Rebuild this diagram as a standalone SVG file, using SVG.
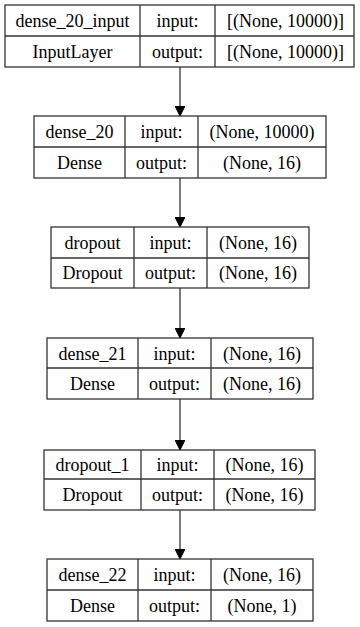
<svg xmlns="http://www.w3.org/2000/svg" width="360" height="627" viewBox="0 0 360 627">
<style>
.n rect, .n line { fill: #fff; stroke: #333; stroke-width: 1.3; }
.n line { fill: none; }
svg g.n text { font-family: 'Liberation Serif', 'Times New Roman', serif !important; font-size: 18px; fill: #000; text-anchor: middle; }
.c line { stroke: #333; stroke-width: 1.3; }
</style>
<defs>
<marker id="ah" markerWidth="10" markerHeight="10" viewBox="0 0 10 10" refX="10" refY="5" orient="auto" markerUnits="userSpaceOnUse">
<path d="M0,0 L10,5 L0,10 z" fill="#000" stroke="#000"/>
</marker>
</defs>
<rect x="0" y="0" width="360" height="627" fill="#ffffff"/>
<g class="c" id="connectors">
<line x1="180" y1="67" x2="180" y2="116" marker-end="url(#ah)"/>
<line x1="180" y1="178" x2="180" y2="227" marker-end="url(#ah)"/>
<line x1="180" y1="288" x2="180" y2="338" marker-end="url(#ah)"/>
<line x1="180" y1="399" x2="180" y2="450" marker-end="url(#ah)"/>
<line x1="180" y1="510" x2="180" y2="559" marker-end="url(#ah)"/>
</g>
<g class="n" id="dense_20_input">
<rect x="5" y="5" width="349" height="62"/>
<line x1="5" y1="36" x2="354" y2="36"/>
<line x1="140" y1="5" x2="140" y2="67"/>
<line x1="215" y1="5" x2="215" y2="67"/>
<text x="72.5" y="27" font-family="'Liberation Serif', serif">dense_20_input</text>
<text x="72.5" y="58" font-family="'Liberation Serif', serif">InputLayer</text>
<text x="177.5" y="27" font-family="'Liberation Serif', serif">input:</text>
<text x="177.5" y="58" font-family="'Liberation Serif', serif">output:</text>
<text x="285.5" y="27" font-family="'Liberation Serif', serif">[(None, 10000)]</text>
<text x="285.5" y="58" font-family="'Liberation Serif', serif">[(None, 10000)]</text>
</g>
<g class="n" id="dense_20">
<rect x="34" y="116" width="292" height="62"/>
<line x1="34" y1="147" x2="326" y2="147"/>
<line x1="125" y1="116" x2="125" y2="178"/>
<line x1="198" y1="116" x2="198" y2="178"/>
<text x="79.5" y="138" font-family="'Liberation Serif', serif">dense_20</text>
<text x="79.5" y="169" font-family="'Liberation Serif', serif">Dense</text>
<text x="161.5" y="138" font-family="'Liberation Serif', serif">input:</text>
<text x="161.5" y="169" font-family="'Liberation Serif', serif">output:</text>
<text x="262" y="138" font-family="'Liberation Serif', serif">(None, 10000)</text>
<text x="262" y="169" font-family="'Liberation Serif', serif">(None, 16)</text>
</g>
<g class="n" id="dropout">
<rect x="51" y="227" width="258" height="61"/>
<line x1="51" y1="258" x2="309" y2="258"/>
<line x1="134" y1="227" x2="134" y2="288"/>
<line x1="207" y1="227" x2="207" y2="288"/>
<text x="92.5" y="249" font-family="'Liberation Serif', serif">dropout</text>
<text x="92.5" y="279" font-family="'Liberation Serif', serif">Dropout</text>
<text x="170.5" y="249" font-family="'Liberation Serif', serif">input:</text>
<text x="170.5" y="279" font-family="'Liberation Serif', serif">output:</text>
<text x="258" y="249" font-family="'Liberation Serif', serif">(None, 16)</text>
<text x="258" y="279" font-family="'Liberation Serif', serif">(None, 16)</text>
</g>
<g class="n" id="dense_21">
<rect x="47" y="338" width="266" height="61"/>
<line x1="47" y1="368" x2="313" y2="368"/>
<line x1="138" y1="338" x2="138" y2="399"/>
<line x1="211" y1="338" x2="211" y2="399"/>
<text x="92.5" y="360" font-family="'Liberation Serif', serif">dense_21</text>
<text x="92.5" y="390" font-family="'Liberation Serif', serif">Dense</text>
<text x="174.5" y="360" font-family="'Liberation Serif', serif">input:</text>
<text x="174.5" y="390" font-family="'Liberation Serif', serif">output:</text>
<text x="262" y="360" font-family="'Liberation Serif', serif">(None, 16)</text>
<text x="262" y="390" font-family="'Liberation Serif', serif">(None, 16)</text>
</g>
<g class="n" id="dropout_1">
<rect x="44" y="450" width="271" height="60"/>
<line x1="44" y1="479" x2="315" y2="479"/>
<line x1="141" y1="450" x2="141" y2="510"/>
<line x1="214" y1="450" x2="214" y2="510"/>
<text x="92.5" y="471" font-family="'Liberation Serif', serif">dropout_1</text>
<text x="92.5" y="501" font-family="'Liberation Serif', serif">Dropout</text>
<text x="177.5" y="471" font-family="'Liberation Serif', serif">input:</text>
<text x="177.5" y="501" font-family="'Liberation Serif', serif">output:</text>
<text x="264.5" y="471" font-family="'Liberation Serif', serif">(None, 16)</text>
<text x="264.5" y="501" font-family="'Liberation Serif', serif">(None, 16)</text>
</g>
<g class="n" id="dense_22">
<rect x="47" y="559" width="266" height="62"/>
<line x1="47" y1="590" x2="313" y2="590"/>
<line x1="138" y1="559" x2="138" y2="621"/>
<line x1="211" y1="559" x2="211" y2="621"/>
<text x="92.5" y="581" font-family="'Liberation Serif', serif">dense_22</text>
<text x="92.5" y="612" font-family="'Liberation Serif', serif">Dense</text>
<text x="174.5" y="581" font-family="'Liberation Serif', serif">input:</text>
<text x="174.5" y="612" font-family="'Liberation Serif', serif">output:</text>
<text x="262" y="581" font-family="'Liberation Serif', serif">(None, 16)</text>
<text x="262" y="612" font-family="'Liberation Serif', serif">(None, 1)</text>
</g>
</svg>
